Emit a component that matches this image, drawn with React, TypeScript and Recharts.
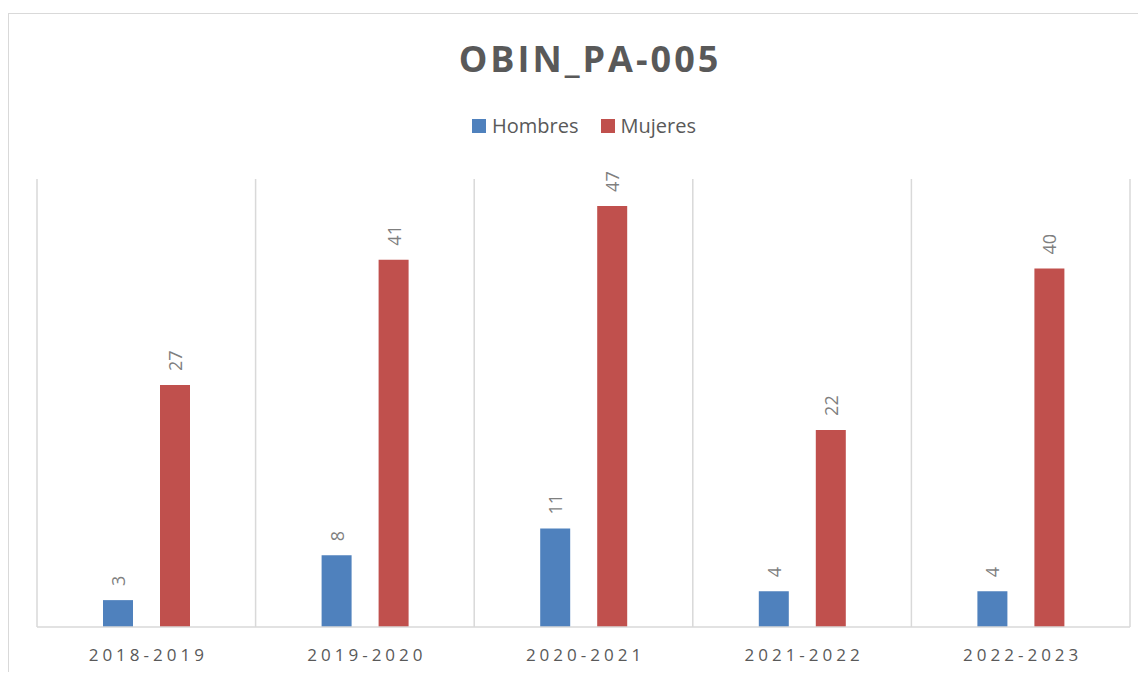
import { BarChart, Bar, XAxis, YAxis, CartesianGrid, LabelList } from "recharts";

const periods = ["2018-2019", "2019-2020", "2020-2021", "2021-2022", "2022-2023"];
const hombres = [3, 8, 11, 4, 4];
const mujeres = [27, 41, 47, 22, 40];

const seriesInfo = [
  { key: "hombres", name: "Hombres", color: "#4F81BD" },
  { key: "mujeres", name: "Mujeres", color: "#C0504D" },
];

const data = periods.map((p, i) => ({ period: p, hombres: hombres[i], mujeres: mujeres[i] }));

const font = "'Open Sans', sans-serif";

const PeriodTick = ({ x, y, payload }: any) => (
  <text
    x={x + 2}
    y={y + 26}
    textAnchor="middle"
    fill="#595959"
    fontSize={17}
    fontFamily={font}
    letterSpacing={4}
  >
    {payload.value}
  </text>
);

const VerticalValue = ({ x, y, width, value }: any) => {
  const cx = x + width / 2;
  const cy = y - 14;
  return (
    <text
      x={cx}
      y={cy}
      transform={`rotate(-90 ${cx} ${cy})`}
      textAnchor="start"
      dominantBaseline="central"
      fill="#7f7f7f"
      fontSize={18}
      fontFamily={font}
    >
      {value}
    </text>
  );
};

const LegendBox = () => (
  <div style={{ display: "flex", justifyContent: "center", gap: 22, fontFamily: font, fontSize: 20, color: "#595959" }}>
    {seriesInfo.map((s) => (
      <div key={s.key} style={{ display: "flex", alignItems: "center", gap: 6 }}>
        <span style={{ width: 14, height: 14, background: s.color, display: "inline-block" }} />
        <span>{s.name}</span>
      </div>
    ))}
  </div>
);

const App = () => {
  return (
    <div style={{ position: "relative", width: 1138, height: 664, overflow: "hidden", background: "#fff" }}>
      <div
        style={{
          position: "absolute",
          left: 0,
          top: 5,
          width: 1170,
          height: 700,
          border: "1px solid #d9d9d9",
          boxSizing: "border-box",
        }}
      />
      <div
        style={{
          position: "absolute",
          left: 0,
          top: 26,
          width: 1164,
          textAlign: "center",
          fontFamily: font,
          fontWeight: 700,
          fontSize: 36,
          letterSpacing: 3,
          color: "#595959",
        }}
      >
        OBIN_PA-005
      </div>
      <div style={{ position: "absolute", left: 0, top: 0 }}>
        <BarChart
          width={1138}
          height={664}
          data={data}
          margin={{ top: 171, right: 16, left: 29, bottom: 15 }}
          barSize={30}
          barGap={27}
        >
          <CartesianGrid
            horizontal={false}
            stroke="#d9d9d9"
            strokeWidth={1.5}
            verticalCoordinatesGenerator={({ offset }: any) =>
              periods.concat([""]).map((_, i) => offset.left + (i * offset.width) / periods.length)
            }
          />
          <XAxis
            dataKey="period"
            height={30}
            axisLine={{ stroke: "#d9d9d9", strokeWidth: 1.5 }}
            tickLine={false}
            tick={<PeriodTick />}
            interval={0}
          />
          <YAxis hide domain={[0, 50]} />
          {seriesInfo.map((s) => (
            <Bar key={s.key} dataKey={s.key} name={s.name} fill={s.color} isAnimationActive={false}>
              <LabelList dataKey={s.key} content={<VerticalValue />} />
            </Bar>
          ))}
        </BarChart>
      </div>
      <div style={{ position: "absolute", left: -6, top: 104, width: 1164 }}>
        <LegendBox />
      </div>
    </div>
  );
};

export default App;
